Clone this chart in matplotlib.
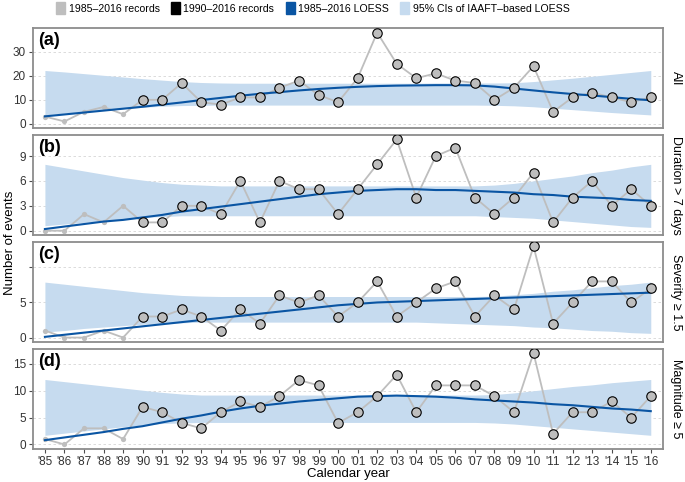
import numpy as np
import matplotlib.pyplot as plt
from matplotlib.patches import Patch

plt.rcParams['font.family'] = ['Liberation Sans', 'DejaVu Sans']

years = np.arange(1985, 2017)
xlabels = ["'%02d" % (y % 100) for y in years]

all_ev = [3, 1, 5, 7, 4, 10, 10, 17, 9, 8, 11, 11, 15, 18, 12, 9, 19, 38, 25, 19, 21, 18, 17, 10, 15, 24, 5, 11, 13, 11, 9, 11]
dur_ev = [0, 0, 2, 1, 3, 1, 1, 3, 3, 2, 6, 1, 6, 5, 5, 2, 5, 8, 11, 4, 9, 10, 4, 2, 4, 7, 1, 4, 6, 3, 5, 3]
sev_ev = [1, 0, 0, 1, 0, 3, 3, 4, 3, 1, 4, 2, 6, 5, 6, 3, 5, 8, 3, 5, 7, 8, 3, 6, 4, 13, 2, 5, 8, 8, 5, 7]
mag_ev = [1, 0, 3, 3, 1, 7, 6, 4, 3, 6, 8, 7, 9, 12, 11, 4, 6, 9, 13, 6, 11, 11, 11, 9, 6, 17, 2, 6, 6, 8, 5, 9]

all_loess = [3.1, 3.9, 4.7, 5.5, 6.3, 7.1, 8.0, 8.9, 9.9, 10.8, 11.7, 12.5, 13.2, 13.9, 14.5, 15.0,
             15.4, 15.7, 15.9, 16.0, 16.1, 16.1, 16.0, 15.5, 14.7, 13.9, 13.1, 12.4, 11.8, 11.1, 10.4, 9.8]
all_hi = [22.2, 21.6, 20.9, 20.2, 19.5, 18.8, 18.2, 17.6, 17.2, 17.0, 16.9, 16.9, 16.9, 16.9, 16.9, 16.9,
          16.9, 16.9, 16.9, 16.9, 17.0, 17.0, 17.0, 17.0, 17.1, 17.6, 18.3, 19.0, 19.8, 20.6, 21.4, 22.2]
all_lo = [3.7, 4.4, 5.1, 5.8, 6.4, 6.9, 7.3, 7.6, 7.7, 7.8, 7.8, 7.8, 7.8, 7.8, 7.8, 7.8,
          7.8, 7.8, 7.8, 7.8, 7.8, 7.8, 7.8, 7.7, 7.5, 7.1, 6.5, 5.9, 5.3, 4.7, 4.2, 3.7]

dur_loess = [0.2, 0.5, 0.8, 1.1, 1.3, 1.6, 1.9, 2.3, 2.6, 2.9, 3.2, 3.5, 3.8, 4.1, 4.4, 4.6,
             4.8, 4.9, 5.0, 5.0, 4.9, 4.9, 4.8, 4.7, 4.6, 4.4, 4.3, 4.1, 4.0, 3.9, 3.7, 3.6]
dur_hi = [8.0, 7.6, 7.2, 6.8, 6.4, 6.1, 5.8, 5.6, 5.5, 5.4, 5.4, 5.4, 5.4, 5.4, 5.4, 5.4,
          5.4, 5.4, 5.4, 5.4, 5.4, 5.4, 5.4, 5.5, 5.7, 6.0, 6.3, 6.6, 7.0, 7.3, 7.7, 8.0]
dur_lo = [0.6, 0.8, 1.0, 1.2, 1.4, 1.6, 1.7, 1.8, 1.8, 1.8, 1.8, 1.8, 1.8, 1.8, 1.8, 1.8,
          1.8, 1.8, 1.8, 1.8, 1.8, 1.8, 1.8, 1.7, 1.6, 1.5, 1.3, 1.1, 0.9, 0.7, 0.5, 0.4]

sev_loess = [0.1, 0.4, 0.7, 1.0, 1.3, 1.6, 1.9, 2.2, 2.5, 2.8, 3.1, 3.4, 3.7, 4.0, 4.3, 4.6,
             4.8, 5.0, 5.1, 5.2, 5.3, 5.4, 5.5, 5.6, 5.7, 5.8, 5.9, 6.0, 6.1, 6.2, 6.3, 6.4]
sev_hi = [7.9, 7.6, 7.3, 7.0, 6.7, 6.4, 6.2, 6.0, 5.9, 5.85, 5.85, 5.85, 5.85, 5.85, 5.85, 5.85,
          5.85, 5.85, 5.85, 5.85, 5.85, 5.85, 5.85, 5.9, 6.1, 6.3, 6.6, 6.8, 7.1, 7.4, 7.6, 7.9]
sev_lo = [0.8, 1.0, 1.3, 1.5, 1.7, 1.9, 2.0, 2.1, 2.2, 2.2, 2.2, 2.2, 2.2, 2.2, 2.2, 2.2,
          2.2, 2.2, 2.2, 2.2, 2.1, 2.0, 1.9, 1.8, 1.7, 1.5, 1.4, 1.2, 1.0, 0.9, 0.7, 0.6]

mag_loess = [0.8, 1.3, 1.8, 2.3, 2.9, 3.4, 4.1, 4.8, 5.4, 6.1, 6.7, 7.2, 7.6, 8.0, 8.3, 8.6,
             8.9, 9.0, 9.1, 9.0, 8.9, 8.7, 8.4, 8.2, 8.0, 7.8, 7.5, 7.3, 7.0, 6.7, 6.5, 6.2]
mag_hi = [12.1, 11.7, 11.3, 10.9, 10.5, 10.1, 9.7, 9.4, 9.2, 9.2, 9.2, 9.2, 9.2, 9.2, 9.2, 9.2,
          9.2, 9.2, 9.2, 9.2, 9.2, 9.2, 9.2, 9.3, 9.6, 10.0, 10.4, 10.8, 11.1, 11.5, 11.8, 12.1]
mag_lo = [1.7, 2.1, 2.5, 2.9, 3.3, 3.6, 3.9, 4.0, 4.1, 4.1, 4.1, 4.1, 4.1, 4.1, 4.1, 4.1,
          4.1, 4.1, 4.1, 4.1, 4.1, 4.1, 4.1, 4.0, 3.8, 3.5, 3.2, 2.9, 2.6, 2.3, 2.0, 1.7]

# panel (c) shows no "10" label in the reference, only its tick and grid line
panels = [
    ("(a)", "All", all_ev, all_loess, all_lo, all_hi, [0, 10, 20, 30], ["0", "10", "20", "30"]),
    ("(b)", "Duration > 7 days", dur_ev, dur_loess, dur_lo, dur_hi, [0, 3, 6, 9], ["0", "3", "6", "9"]),
    ("(c)", "Severity \u2265 1.5", sev_ev, sev_loess, sev_lo, sev_hi, [0, 5, 10], ["0", "5", ""]),
    ("(d)", "Magnitude \u2265 5", mag_ev, mag_loess, mag_lo, mag_hi, [0, 5, 10, 15], ["0", "5", "10", "15"]),
]

grey = '#BEBEBE'
blue = '#0A55A3'
band = '#C6DBEF'

W, H = 685, 482
fig = plt.figure(figsize=(W / 100, H / 100), dpi=100)

left, right = 33, 662.7
top, bottom = 28, 449
gap = 6.5
ph = (bottom - top - 3 * gap) / 4

early = years < 1990
for i, (tag, strip, ev, lo_s, lo_b, hi_b, yt, ytl) in enumerate(panels):
    y0 = top + i * (ph + gap)
    ax = fig.add_axes([left / W, 1 - (y0 + ph) / H, (right - left) / W, ph / H])
    ev = np.array(ev)
    ax.fill_between(years, lo_b, hi_b, color=band, lw=0, zorder=1)
    ax.plot(years, ev, color=grey, lw=1.3, zorder=2)
    ax.plot(years[early], ev[early], 'o', color=grey, ms=3.8, mec='none', zorder=3)
    ax.plot(years[~early], ev[~early], 'o', mfc=grey, mec='black', mew=0.8, ms=6.8, zorder=5)
    ax.plot(years, lo_s, color=blue, lw=1.5, zorder=4)

    ymax = max(max(ev), max(hi_b))
    pad = 0.05 * ymax
    ax.set_ylim(-pad, ymax + pad)
    ax.set_xlim(1984.39, 2016.61)
    ax.set_yticks(yt)
    ax.set_yticklabels(ytl)
    ax.yaxis.grid(True, ls=(0, (3, 3)), color='#D6D6D6', lw=0.6, zorder=0)
    ax.set_axisbelow(True)
    ax.set_xticks(years)
    if i == 3:
        ax.set_xticklabels(xlabels)
    else:
        ax.tick_params(axis='x', bottom=False, labelbottom=False)
    ax.tick_params(axis='both', labelsize=8.5, colors='#4D4D4D', length=3, width=0.8, pad=2)
    ax.tick_params(axis='both', labelcolor='#333333')
    for s in ax.spines.values():
        s.set_color('#8C8C8C')
        s.set_linewidth(1.3)
    ax.text(0.008, 0.96, tag, transform=ax.transAxes, fontsize=13, fontweight='bold',
            va='top', ha='left')
    ax.text(1.012, 0.5, strip, transform=ax.transAxes, rotation=-90, fontsize=9,
            va='center', ha='left')

fig.text(10 / W, 1 - 243 / H, "Number of events", rotation=90, fontsize=9.5,
         ha='center', va='center')
fig.text(348 / W, 1 - 474 / H, "Calendar year", fontsize=9.5, ha='center', va='center')

handles = [Patch(color=grey), Patch(color='black'), Patch(color=blue), Patch(color=band)]
labels = ["1985\u20132016 records", "1990\u20132016 records", "1985\u20132016 LOESS",
          "95% CIs of IAAFT\u2013based LOESS"]
fig.legend(handles, labels, loc='center', bbox_to_anchor=(313 / W, 1 - 8 / H), ncol=4,
           frameon=False, fontsize=7.6, handlelength=0.85, handleheight=1.4,
           handletextpad=0.3, columnspacing=1.1, borderpad=0)

fig.savefig('out.png', dpi=100)
